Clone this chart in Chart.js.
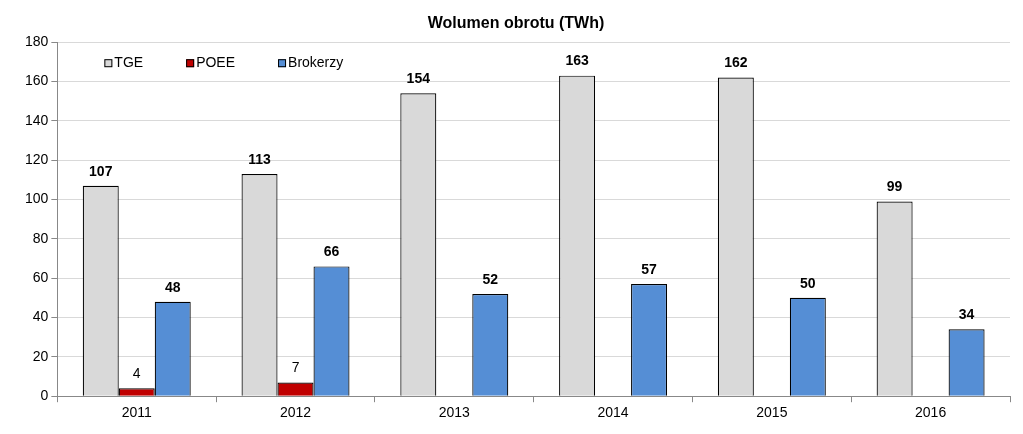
<!DOCTYPE html>
<html>
<head>
<meta charset="utf-8">
<script src="https://cdn.jsdelivr.net/npm/chart.js@4"></script>
<style>
    body { margin: 0; background: #fff; }
    #wrap { width: 1023px; height: 434px; }
</style>
</head>
<body>
<div id="wrap"><canvas id="volumeChart"></canvas></div>
<script>
const years = ['2011', '2012', '2013', '2014', '2015', '2016'];
const tge = [107, 113, 154, 163, 162, 99];
const poee = [4, 7, null, null, null, null];
const brokerzy = [48, 66, 52, 57, 50, 34];

const font = "'Liberation Sans', Arial, sans-serif";

// wartosci nad slupkami
const valueLabels = {
    id: 'valueLabels',
    afterDatasetsDraw(chart) {
        const ctx = chart.ctx;
        ctx.save();
        ctx.textAlign = 'center';
        ctx.textBaseline = 'bottom';
        ctx.fillStyle = '#000';
        chart.data.datasets.forEach((ds, i) => {
            const meta = chart.getDatasetMeta(i);
            ctx.font = (ds.label === 'POEE' ? '' : 'bold ') + '14px ' + font;
            meta.data.forEach((bar, j) => {
                if (ds.data[j] == null) return;
                ctx.fillText(ds.data[j], bar.x, bar.y - 7);
            });
        });
        ctx.restore();
    }
};

// legenda wewnatrz wykresu
const innerLegend = {
    id: 'innerLegend',
    afterDraw(chart) {
        const ctx = chart.ctx;
        const area = chart.chartArea;
        let x = area.left + 47;
        const y = area.top + 21;
        ctx.save();
        ctx.font = '14px ' + font;
        ctx.textBaseline = 'middle';
        chart.data.datasets.forEach(ds => {
            ctx.fillStyle = ds.backgroundColor;
            ctx.fillRect(x, y - 4, 8, 8);
            ctx.strokeStyle = '#000';
            ctx.lineWidth = 1;
            ctx.strokeRect(x + 0.5, y - 3.5, 7, 7);
            ctx.fillStyle = '#000';
            ctx.fillText(ds.label, x + 10, y);
            x += 10 + ctx.measureText(ds.label).width + 43;
        });
        ctx.restore();
    }
};

new Chart(document.getElementById('volumeChart'), {
    type: 'bar',
    data: {
        labels: years,
        datasets: [
            { label: 'TGE', data: tge, backgroundColor: '#d9d9d9', borderColor: '#000', borderWidth: 1.2 },
            { label: 'POEE', data: poee, backgroundColor: '#c00000', borderColor: '#000', borderWidth: 1.2 },
            { label: 'Brokerzy', data: brokerzy, backgroundColor: '#558ed5', borderColor: '#000', borderWidth: 1.2 }
        ]
    },
    options: {
        responsive: true,
        maintainAspectRatio: false,
        animation: false,
        datasets: {
            bar: { categoryPercentage: 0.68, barPercentage: 1 }
        },
        layout: { padding: { left: 22, right: 13, top: 4, bottom: 9 } },
        plugins: {
            title: {
                display: true,
                text: 'Wolumen obrotu (TWh)',
                color: '#000',
                font: { family: font, size: 16, weight: 'bold' },
                padding: { top: 10, bottom: 9 }
            },
            legend: { display: false },
            tooltip: { enabled: false }
        },
        scales: {
            x: {
                grid: { drawOnChartArea: false, offset: true, tickLength: 6, color: '#888' },
                border: { color: '#888' },
                ticks: { color: '#000', font: { family: font, size: 14 } }
            },
            y: {
                min: 0,
                max: 180,
                ticks: { stepSize: 20, color: '#000', font: { family: font, size: 14 } },
                grid: { color: '#d9d9d9', tickLength: 6, tickColor: '#888' },
                border: { color: '#888' }
            }
        }
    },
    plugins: [valueLabels, innerLegend]
});
</script>
</body>
</html>
